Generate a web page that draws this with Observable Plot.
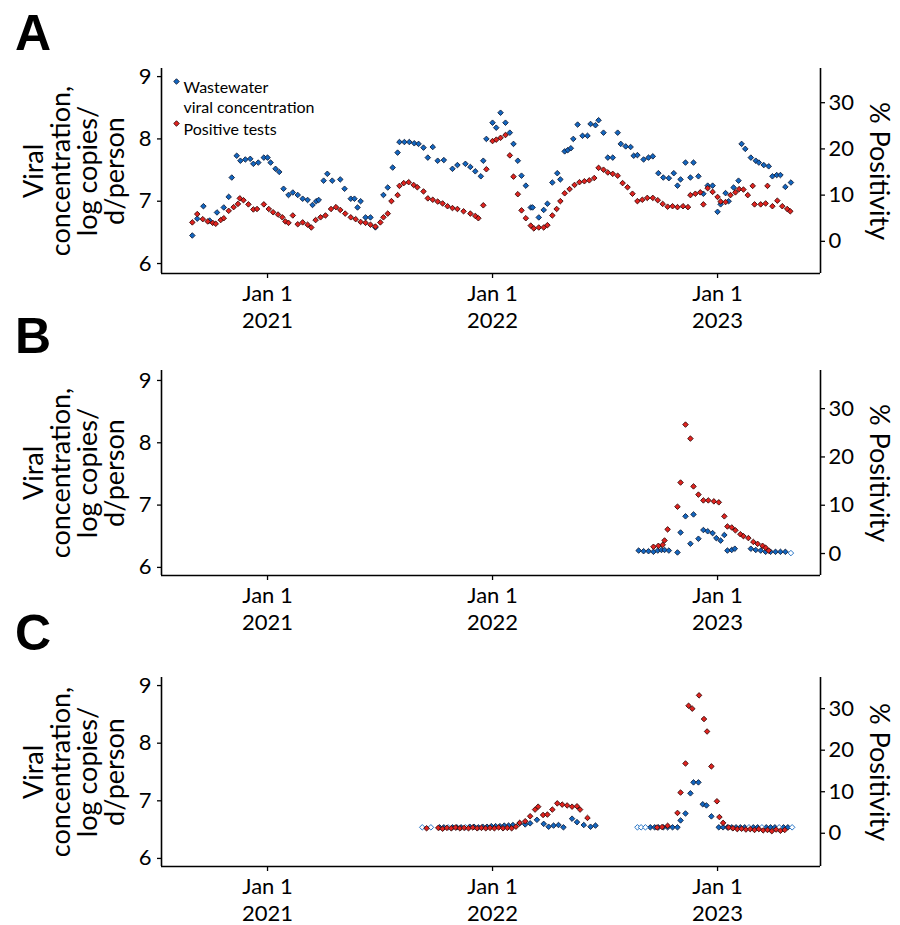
<!DOCTYPE html>
<html>
<head>
<meta charset="utf-8">
<script src="https://cdn.jsdelivr.net/npm/d3@7"></script>
<script src="https://cdn.jsdelivr.net/npm/@observablehq/plot@0.6"></script>
<style>
  html, body { margin: 0; padding: 0; background: #fff; }
  #wrap { position: relative; width: 900px; height: 925px; overflow: hidden; font-family: Lato, "Open Sans", sans-serif; }
  .panel { position: absolute; left: 0; }
  .letter { position: absolute; left: 15px; font-family: "Liberation Sans", Arial, sans-serif; font-weight: bold; font-size: 50px; line-height: 50px; color: #000; }
</style>
</head>
<body>
<div id="wrap">
  <div class="panel" id="pA" style="top:0px"></div>
  <div class="panel" id="pB" style="top:345px"></div>
  <div class="panel" id="pC" style="top:640px"></div>
  <div class="letter" style="top:8px">A</div>
  <div class="letter" style="top:311px">B</div>
  <div class="letter" style="top:608px">C</div>
</div>
<script>
// ---------- Data ----------
const xTickYears = [2021, 2022, 2023];
const leftTicks = [6, 7, 8, 9];
const rightTicks = [0, 10, 20, 30];
const seriesNames = ["Wastewater", "viral concentration", "Positive tests"];
const leftTitle = "Viral\nconcentration,\nlog copies/\nd/person";
const rightTitle = "% Positivity";

// Panel A: wastewater (log copies/d/person) and % positivity
const panelA_wastewater = [
["2020-09-01",6.45],["2020-09-09",6.72],["2020-09-19",6.92],["2020-09-29",6.69],["2020-10-11",6.82],["2020-10-22",6.90],["2020-10-30",7.07],["2020-11-04",7.38],["2020-11-12",7.73],["2020-11-18",7.65],["2020-11-26",7.67],["2020-12-04",7.68],["2020-12-09",7.60],["2020-12-17",7.62],["2020-12-26",7.70],["2021-01-01",7.70],["2021-01-06",7.62],["2021-01-14",7.52],["2021-01-20",7.47],["2021-01-27",7.20],["2021-02-04",7.10],["2021-02-11",7.14],["2021-02-19",7.10],["2021-02-27",7.04],["2021-03-07",7.02],["2021-03-15",6.94],["2021-03-21",7.00],["2021-03-25",7.02],["2021-04-02",7.33],["2021-04-08",7.44],["2021-04-16",7.33],["2021-04-29",7.35],["2021-05-06",7.20],["2021-05-16",7.04],["2021-05-22",7.04],["2021-05-27",6.90],["2021-06-01",7.00],["2021-06-09",6.74],["2021-06-17",6.74],["2021-06-25",6.58],["2021-07-08",7.10],["2021-07-15",7.22],["2021-07-23",7.54],["2021-07-31",7.78],["2021-08-03",7.95],["2021-08-11",7.95],["2021-08-19",7.95],["2021-08-27",7.93],["2021-09-03",7.92],["2021-09-11",7.86],["2021-09-18",7.70],["2021-09-26",7.87],["2021-10-04",7.65],["2021-10-14",7.66],["2021-10-28",7.52],["2021-11-05",7.58],["2021-11-18",7.60],["2021-11-26",7.55],["2021-12-04",7.48],["2021-12-13",7.40],["2021-12-17",7.65],["2021-12-22",8.00],["2022-01-01",8.26],["2022-01-07",8.18],["2022-01-14",8.42],["2022-01-22",8.26],["2022-01-29",8.10],["2022-02-04",7.92],["2022-02-11",7.65],["2022-02-17",7.41],["2022-02-24",7.25],["2022-03-04",6.90],["2022-03-07",6.90],["2022-03-17",6.74],["2022-03-25",6.86],["2022-03-31",6.96],["2022-04-08",7.30],["2022-04-16",7.45],["2022-04-21",7.35],["2022-04-28",7.80],["2022-05-03",7.82],["2022-05-08",7.85],["2022-05-12",8.00],["2022-05-19",8.23],["2022-05-27",8.05],["2022-06-04",8.05],["2022-06-09",8.24],["2022-06-17",8.22],["2022-06-22",8.30],["2022-06-30",8.10],["2022-07-07",7.70],["2022-07-15",7.70],["2022-07-23",8.10],["2022-07-28",7.92],["2022-08-05",7.88],["2022-08-13",7.87],["2022-08-18",7.73],["2022-08-24",7.74],["2022-09-03",7.67],["2022-09-11",7.70],["2022-09-18",7.72],["2022-09-27",7.45],["2022-10-05",7.38],["2022-10-14",7.37],["2022-10-22",7.45],["2022-10-28",7.25],["2022-11-02",7.35],["2022-11-10",7.62],["2022-11-18",7.38],["2022-11-23",7.62],["2022-12-01",7.40],["2022-12-09",7.12],["2022-12-16",7.25],["2022-12-24",7.25],["2023-01-01",6.83],["2023-01-06",6.95],["2023-01-14",7.13],["2023-01-19",7.00],["2023-01-27",7.22],["2023-02-04",7.33],["2023-02-09",7.92],["2023-02-15",7.84],["2023-02-24",7.70],["2023-03-04",7.65],["2023-03-09",7.62],["2023-03-17",7.58],["2023-03-25",7.56],["2023-03-31",7.40],["2023-04-07",7.42],["2023-04-13",7.42],["2023-04-21",7.23],["2023-04-30",7.30]
];
const panelA_positivity = [
["2020-09-01",4.1],["2020-09-09",5.9],["2020-09-18",4.8],["2020-09-26",4.3],["2020-10-04",4.0],["2020-10-09",3.8],["2020-10-17",4.6],["2020-10-22",5.0],["2020-10-30",6.6],["2020-11-07",7.4],["2020-11-14",8.1],["2020-11-17",9.3],["2020-11-23",8.9],["2020-12-01",8.0],["2020-12-09",6.9],["2020-12-15",7.0],["2020-12-26",8.0],["2021-01-03",7.0],["2021-01-10",6.3],["2021-01-18",5.8],["2021-01-25",5.2],["2021-01-30",4.3],["2021-02-04",4.0],["2021-02-11",5.6],["2021-02-19",3.7],["2021-02-27",4.1],["2021-03-07",3.6],["2021-03-13",3.0],["2021-03-20",4.6],["2021-03-28",5.2],["2021-04-05",5.6],["2021-04-14",7.0],["2021-04-22",7.4],["2021-04-29",6.8],["2021-05-07",6.0],["2021-05-16",5.2],["2021-05-24",4.8],["2021-06-01",4.2],["2021-06-09",4.0],["2021-06-17",3.6],["2021-06-25",3.2],["2021-07-03",4.1],["2021-07-08",5.2],["2021-07-15",6.0],["2021-07-21",8.7],["2021-07-31",10.0],["2021-08-03",12.0],["2021-08-10",12.6],["2021-08-18",12.8],["2021-08-26",12.2],["2021-09-01",11.7],["2021-09-11",10.8],["2021-09-18",9.3],["2021-09-26",9.0],["2021-10-04",8.6],["2021-10-12",8.2],["2021-10-20",7.6],["2021-10-28",7.2],["2021-11-05",7.0],["2021-11-15",6.5],["2021-11-26",6.0],["2021-12-04",5.5],["2021-12-09",5.0],["2021-12-17",7.8],["2021-12-22",15.6],["2022-01-01",21.7],["2022-01-07",22.0],["2022-01-14",22.4],["2022-01-22",23.0],["2022-01-29",18.6],["2022-02-04",14.0],["2022-02-11",10.2],["2022-02-17",6.7],["2022-02-24",5.0],["2022-03-04",3.4],["2022-03-09",2.8],["2022-03-17",3.0],["2022-03-25",3.0],["2022-03-31",3.5],["2022-04-08",5.6],["2022-04-15",7.0],["2022-04-21",8.7],["2022-04-28",10.4],["2022-05-06",11.3],["2022-05-14",12.2],["2022-05-22",12.8],["2022-05-30",13.0],["2022-06-07",13.2],["2022-06-15",13.7],["2022-06-22",15.9],["2022-06-30",15.5],["2022-07-07",14.9],["2022-07-15",14.6],["2022-07-23",14.2],["2022-07-31",12.6],["2022-08-08",11.7],["2022-08-16",10.3],["2022-08-24",8.7],["2022-09-01",9.0],["2022-09-09",9.4],["2022-09-18",9.4],["2022-09-26",8.9],["2022-10-04",8.1],["2022-10-12",7.5],["2022-10-20",7.6],["2022-10-28",7.4],["2022-11-06",7.6],["2022-11-14",7.4],["2022-11-18",10.0],["2022-11-26",10.3],["2022-12-04",10.6],["2022-12-09",8.0],["2022-12-16",11.5],["2022-12-24",10.7],["2023-01-01",9.6],["2023-01-06",8.6],["2023-01-14",8.5],["2023-01-22",10.0],["2023-01-30",10.6],["2023-02-05",11.3],["2023-02-12",11.2],["2023-02-19",10.0],["2023-02-27",12.0],["2023-03-02",8.0],["2023-03-12",8.0],["2023-03-20",8.2],["2023-03-23",12.0],["2023-03-31",7.6],["2023-04-08",8.8],["2023-04-16",7.6],["2023-04-24",7.0],["2023-04-29",6.5]
];

// Panel B
const panelB_wastewater = [
["2022-08-26",6.27],["2022-09-03",6.26],["2022-09-11",6.26],["2022-09-19",6.25],["2022-09-26",6.27],["2022-10-02",6.28],["2022-10-07",6.28],["2022-10-14",6.27],["2022-10-28",6.24],["2022-11-02",6.56],["2022-11-10",6.82],["2022-11-18",6.38],["2022-11-23",6.85],["2022-12-01",6.46],["2022-12-09",6.60],["2022-12-16",6.58],["2022-12-24",6.55],["2022-12-30",6.47],["2023-01-06",6.43],["2023-01-12",6.52],["2023-01-17",6.27],["2023-01-24",6.28],["2023-01-29",6.30],["2023-02-24",6.30],["2023-03-04",6.28],["2023-03-12",6.27],["2023-03-20",6.25],["2023-03-28",6.25],["2023-04-05",6.25],["2023-04-13",6.25],["2023-04-21",6.25]
];
const panelB_wastewaterND = [["2023-04-30",6.23]];
const panelB_positivity = [
["2022-09-19",1.4],["2022-09-27",1.6],["2022-10-04",1.8],["2022-10-07",2.7],["2022-10-12",5.0],["2022-10-28",9.7],["2022-11-02",14.7],["2022-11-10",26.7],["2022-11-18",23.8],["2022-11-23",13.9],["2022-12-01",12.2],["2022-12-09",11.0],["2022-12-17",11.0],["2022-12-26",10.8],["2023-01-03",10.6],["2023-01-12",7.7],["2023-01-17",5.6],["2023-01-24",5.4],["2023-01-30",4.8],["2023-02-07",4.0],["2023-02-12",3.6],["2023-02-20",3.2],["2023-02-28",2.4],["2023-03-07",2.0],["2023-03-15",1.6],["2023-03-20",1.2],["2023-03-25",0.6]
];

// Panel C
const panelC_wastewater = [
["2021-10-07",6.54],["2021-10-14",6.54],["2021-10-28",6.54],["2021-11-04",6.54],["2021-11-11",6.54],["2021-11-25",6.55],["2021-12-02",6.55],["2021-12-09",6.54],["2021-12-16",6.55],["2021-12-23",6.55],["2021-12-30",6.56],["2022-01-06",6.56],["2022-01-13",6.56],["2022-01-20",6.57],["2022-01-27",6.57],["2022-02-03",6.58],["2022-02-14",6.61],["2022-02-23",6.59],["2022-03-03",6.61],["2022-03-14",6.67],["2022-03-25",6.60],["2022-04-02",6.55],["2022-04-10",6.57],["2022-04-18",6.58],["2022-04-26",6.54],["2022-05-10",6.69],["2022-05-18",6.63],["2022-05-29",6.58],["2022-06-09",6.55],["2022-06-17",6.57],
["2022-09-14",6.54],["2022-09-21",6.54],["2022-09-27",6.54],["2022-10-05",6.54],["2022-10-12",6.54],["2022-10-20",6.54],["2022-10-28",6.54],["2022-11-02",6.66],["2022-11-10",6.78],["2022-11-18",7.13],["2022-11-23",7.32],["2022-12-01",7.32],["2022-12-08",6.94],["2022-12-14",6.92],["2022-12-22",6.73],["2023-01-03",6.54],["2023-01-10",6.54],["2023-01-17",6.54],["2023-01-24",6.54],["2023-01-31",6.54],["2023-02-07",6.54],["2023-02-14",6.54],["2023-02-28",6.54],["2023-03-07",6.54],["2023-03-21",6.54],["2023-03-28",6.54],["2023-04-04",6.54],["2023-04-18",6.54],["2023-04-25",6.54]
];
const panelC_wastewaterND = [
["2021-09-09",6.54],["2021-09-23",6.54],["2021-10-21",6.54],["2021-11-18",6.54],
["2022-08-24",6.54],["2022-08-30",6.54],["2022-09-06",6.54],["2023-02-21",6.54],["2023-03-14",6.54],["2023-04-11",6.54],["2023-05-02",6.54]
];
const panelC_positivity = [
["2021-09-16",1.2],["2021-10-05",1.3],["2021-10-12",1.1],["2021-10-19",1.3],["2021-10-26",1.2],["2021-11-02",1.4],["2021-11-09",1.2],["2021-11-16",1.3],["2021-11-23",1.2],["2021-11-30",1.4],["2021-12-07",1.2],["2021-12-14",1.3],["2021-12-21",1.2],["2021-12-28",1.3],["2022-01-04",1.2],["2022-01-11",1.4],["2022-01-18",1.2],["2022-01-25",1.3],["2022-02-01",1.2],["2022-02-08",1.6],["2022-02-14",2.5],["2022-02-23",2.9],["2022-03-03",4.1],["2022-03-11",5.7],["2022-03-16",6.4],["2022-03-24",4.4],["2022-03-31",4.5],["2022-04-08",5.7],["2022-04-16",7.2],["2022-04-24",6.9],["2022-05-02",6.7],["2022-05-10",6.4],["2022-05-18",6.5],["2022-05-23",5.7],["2022-06-04",3.7],
["2022-09-25",1.4],["2022-10-03",1.5],["2022-10-12",1.8],["2022-10-28",4.9],["2022-11-02",9.8],["2022-11-10",16.8],["2022-11-15",30.7],["2022-11-21",30.0],["2022-12-02",33.2],["2022-12-10",27.5],["2022-12-15",24.5],["2022-12-22",16.1],["2022-12-31",7.7],["2023-01-04",3.9],["2023-01-10",2.5],["2023-01-19",1.4],["2023-01-26",1.2],["2023-02-02",1.0],["2023-02-09",1.1],["2023-02-16",0.9],["2023-02-23",1.0],["2023-03-02",0.8],["2023-03-09",1.0],["2023-03-16",0.7],["2023-03-23",0.8],["2023-03-30",0.5],["2023-04-06",0.9],["2023-04-13",0.6],["2023-04-20",0.8]
];

// ---------- Drawing ----------
const BLUE = "#1266c0", RED = "#e0231f", EDGE = "#14213d", EDGE_R = "#3a0a0a";
const xDomain = [new Date("2020-07-13"), new Date("2023-06-17")];
const xTicks = xTickYears.map(y => new Date(Date.UTC(y, 0, 1)));
const parse = d => new Date(d[0]);

function panel({wastewater, positivity, wastewaterND = [], leftDomain, rightDomain, marginTop, marginBottom, height, legend}) {
  const k = (leftDomain[1] - leftDomain[0]) / (rightDomain[1] - rightDomain[0]);
  const toLeft = p => leftDomain[0] + (p - rightDomain[0]) * k;
  const fromLeft = v => rightDomain[0] + (v - leftDomain[0]) / k;
  const dotOpts = (fill, stroke) => ({symbol: "diamond2", r: 2.5, fill, stroke, strokeWidth: 0.9});
  const marks = [
    Plot.ruleX([xDomain[0]], {stroke: "black", strokeWidth: 1.6}),
    Plot.ruleX([xDomain[1]], {stroke: "black", strokeWidth: 1.6}),
    Plot.ruleY([leftDomain[0]], {stroke: "black", strokeWidth: 1.6}),
    Plot.axisY(leftTicks, {anchor: "left", tickSize: 4, tickPadding: 6, fontSize: 22, label: null, strokeWidth: 1.3,
      tickFormat: v => String(v)}),
    Plot.axisY(rightTicks.map(toLeft), {anchor: "right", tickSize: 4, tickPadding: 4, fontSize: 22, label: null, strokeWidth: 1.3,
      tickFormat: v => String(Math.round(fromLeft(v)))}),
    Plot.axisX(xTicks, {anchor: "bottom", tickSize: 5, tickPadding: 4, fontSize: 22, lineHeight: 1.2, label: null, strokeWidth: 1.3,
      tickFormat: d => `Jan 1\n${d.getUTCFullYear()}`}),
    Plot.text([leftTitle], {text: d => d, frameAnchor: "left", dx: -87, rotate: -90, textAnchor: "middle", lineAnchor: "middle", fontSize: 27, lineHeight: 1.0, fill: "black"}),
    Plot.text([rightTitle], {text: d => d, frameAnchor: "right", dx: 58, rotate: 90, textAnchor: "middle", lineAnchor: "middle", fontSize: 27, fill: "black"}),
    Plot.dot(wastewater, {x: parse, y: d => d[1], ...dotOpts(BLUE, EDGE)}),
    Plot.dot(wastewaterND, {x: parse, y: d => d[1], ...dotOpts("white", BLUE)}),
    Plot.dot(positivity, {x: parse, y: d => toLeft(d[1]), ...dotOpts(RED, EDGE_R)})
  ];
  if (legend) {
    marks.push(
      Plot.dot([0], {frameAnchor: "top-left", dx: 15, dy: 13, ...dotOpts(BLUE, EDGE)}),
      Plot.text([seriesNames[0]], {text: d => d, frameAnchor: "top-left", dx: 22, dy: 13, textAnchor: "start", fontSize: 16, fill: "black"}),
      Plot.text([seriesNames[1]], {text: d => d, frameAnchor: "top-left", dx: 22, dy: 33, textAnchor: "start", fontSize: 16, fill: "black"}),
      Plot.dot([0], {frameAnchor: "top-left", dx: 15, dy: 55, ...dotOpts(RED, EDGE_R)}),
      Plot.text([seriesNames[2]], {text: d => d, frameAnchor: "top-left", dx: 22, dy: 55, textAnchor: "start", fontSize: 16, fill: "black"})
    );
  }
  return Plot.plot({
    width: 900, height, marginLeft: 161, marginRight: 80, marginTop, marginBottom,
    x: {type: "utc", domain: xDomain},
    y: {domain: leftDomain},
    style: {fontFamily: "Lato, 'Open Sans', sans-serif", color: "black", background: "transparent", overflow: "visible"},
    marks
  });
}

document.getElementById("pA").appendChild(panel({
  wastewater: panelA_wastewater, positivity: panelA_positivity,
  leftDomain: [5.84, 9.13], rightDomain: [-6.96, 37.4],
  marginTop: 68, marginBottom: 72, height: 345, legend: true
}));
document.getElementById("pB").appendChild(panel({
  wastewater: panelB_wastewater, positivity: panelB_positivity, wastewaterND: panelB_wastewaterND,
  leftDomain: [5.87, 9.16], rightDomain: [-4.55, 37.9],
  marginTop: 25, marginBottom: 65, height: 295
}));
document.getElementById("pC").appendChild(panel({
  wastewater: panelC_wastewater, positivity: panelC_positivity, wastewaterND: panelC_wastewaterND,
  leftDomain: [5.86, 9.14], rightDomain: [-8.0, 37.5],
  marginTop: 37, marginBottom: 59, height: 285
}));
</script>
</body>
</html>
